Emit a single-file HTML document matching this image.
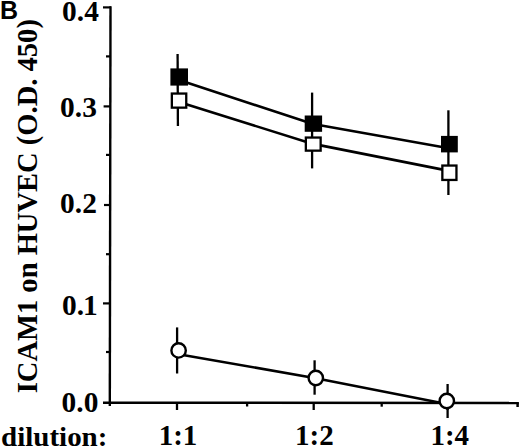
<!DOCTYPE html>
<html>
<head>
<meta charset="utf-8">
<style>
html,body{margin:0;padding:0;background:#fff;width:520px;height:448px;overflow:hidden;}
svg{display:block;position:absolute;left:0;top:0;}
.t, .t text{font-family:"Liberation Serif",serif;font-weight:bold;fill:#000;}
.s{font-family:"Liberation Sans",sans-serif;font-weight:bold;fill:#000;}
</style>
</head>
<body>
<svg width="520" height="448" viewBox="0 0 520 448">
<g stroke="#000" stroke-linecap="butt" fill="none">
  <!-- y axis -->
  <line x1="110.5" y1="6.3" x2="109.8" y2="406" stroke-width="2.4"/>
  <!-- major y ticks -->
  <line x1="103" y1="7.4" x2="111" y2="7.4" stroke-width="2.2"/>
  <line x1="103.6" y1="106.4" x2="110.5" y2="106.4" stroke-width="2.2"/>
  <line x1="104" y1="205" x2="110.5" y2="205" stroke-width="2.2"/>
  <line x1="103" y1="303.4" x2="110" y2="303.4" stroke-width="2.2"/>
  <!-- minor y ticks -->
  <line x1="106" y1="56.4" x2="110" y2="56.4" stroke-width="2.2"/>
  <line x1="106" y1="154.9" x2="110" y2="154.9" stroke-width="2.2"/>
  <line x1="106" y1="254.2" x2="110" y2="254.2" stroke-width="2.2"/>
  <line x1="106" y1="352" x2="110" y2="352" stroke-width="2.2"/>
  <!-- x axis -->
  <line x1="103" y1="402.7" x2="518.8" y2="403.1" stroke-width="2.5"/>
  <line x1="517.6" y1="402.5" x2="517.6" y2="407" stroke-width="2.5"/>
  <!-- x ticks -->
  <line x1="177" y1="402" x2="177" y2="410" stroke-width="2.3"/>
  <line x1="247.1" y1="402" x2="247.1" y2="406.5" stroke-width="2.3"/>
  <line x1="313.7" y1="402" x2="313.7" y2="410" stroke-width="2.3"/>
  <line x1="381.7" y1="402" x2="381.7" y2="406.7" stroke-width="2.3"/>
  <line x1="447.6" y1="402" x2="447.6" y2="410" stroke-width="2.3"/>

  <!-- error bars -->
  <line x1="177.6" y1="53.9" x2="177.9" y2="125.9" stroke-width="2.3"/>
  <line x1="312.1" y1="92.6" x2="312.1" y2="168.4" stroke-width="2.3"/>
  <line x1="448.4" y1="110.3" x2="448.4" y2="195" stroke-width="2.3"/>
  <line x1="177.1" y1="327.4" x2="177.1" y2="373.5" stroke-width="2.3"/>
  <line x1="314.6" y1="360.3" x2="314.6" y2="394.7" stroke-width="2.3"/>
  <line x1="447.6" y1="384" x2="447.6" y2="418" stroke-width="2.3"/>

  <!-- data lines -->
  <polyline points="179,80 313,124 449,148.2" stroke-width="2.6" stroke-linejoin="round"/>
  <polyline points="179,102.1 313,143.9 449,170.9" stroke-width="2.6" stroke-linejoin="round"/>
  <polyline points="178.6,354.2 315.8,378.2 446.8,404" stroke-width="2.6" stroke-linejoin="round"/>
</g>
<!-- markers -->
<g stroke="#000">
  <rect x="170.4" y="68.4" width="17.6" height="17.2" fill="#000" stroke="none"/>
  <rect x="304.7" y="115.5" width="17.4" height="16.3" fill="#000" stroke="none"/>
  <rect x="441" y="135.9" width="16.8" height="16.5" fill="#000" stroke="none"/>

  <rect x="171.85" y="93.55" width="14.4" height="14.1" fill="#fff" stroke-width="2.3"/>
  <rect x="305.85" y="137.55" width="14.8" height="13.1" fill="#fff" stroke-width="2.3"/>
  <rect x="442.35" y="165.55" width="14.1" height="14.4" fill="#fff" stroke-width="2.3"/>

  <circle cx="178.6" cy="350.4" r="7.2" fill="#fff" stroke-width="2.4"/>
  <circle cx="315.8" cy="378" r="7.2" fill="#fff" stroke-width="2.4"/>
  <circle cx="446.8" cy="401" r="7.2" fill="#fff" stroke-width="2.4"/>
</g>

<!-- text -->
<text id="tB" class="s" x="0" y="19" font-size="25">B</text>
<g class="t">
<text id="t04" transform="translate(62.1,20.5) scale(1,0.968)" font-size="29.4">0.4</text>
<text id="t03" transform="translate(60.1,116.9) scale(1,0.968)" font-size="29.4">0.3</text>
<text id="t02" transform="translate(60.1,212.9) scale(1,0.968)" font-size="29.4">0.2</text>
<text id="t01" transform="translate(62.1,314.8) scale(1,0.968)" font-size="29.4">0.<tspan dx="-1.2">1</tspan></text>
<text id="t00" transform="translate(61.6,412.4) scale(1,0.968)" font-size="29.4">0.0</text>
<text id="tdil" transform="translate(1.1,445.5) scale(1,0.968)" font-size="29">dilution:</text>
<text id="t11" transform="translate(158.7,444.7) scale(1,1.04)" font-size="29">1:1</text>
<text id="t12" transform="translate(295.1,444.7) scale(1,1.04)" font-size="29">1:2</text>
<text id="t14" transform="translate(430.4,444.7) scale(1,1.04)" font-size="29">1:4</text>
<text id="ttitle" transform="translate(37.2,393.3) scale(1,0.968) rotate(-90)" font-size="29.5">ICAM1 on HUVEC (O.D. 450)</text>
</g>
</svg>
</body>
</html>
